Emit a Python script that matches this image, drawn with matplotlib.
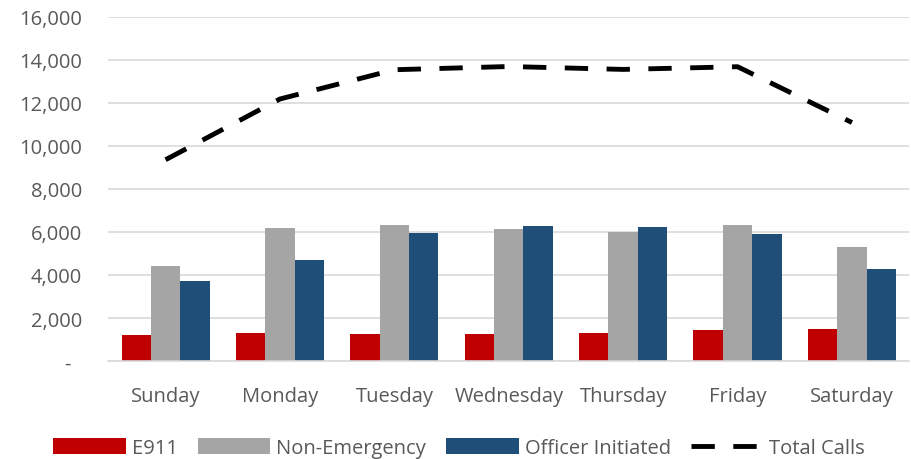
import numpy as np
import matplotlib.pyplot as plt
from matplotlib.ticker import FuncFormatter

plt.rcParams['font.family'] = ['Open Sans', 'DejaVu Sans']

days = ['Sunday', 'Monday', 'Tuesday', 'Wednesday', 'Thursday', 'Friday', 'Saturday']
e911 = [1230, 1310, 1250, 1265, 1295, 1465, 1480]
non_emergency = [4400, 6200, 6320, 6160, 6010, 6320, 5310]
officer = [3730, 4675, 5975, 6270, 6255, 5900, 4300]
total = [9360, 12185, 13545, 13695, 13560, 13685, 11090]

fig = plt.figure(figsize=(9.11, 4.6), dpi=100)
ax = fig.add_axes([0.119, 0.213, 0.879, 0.748])

x = np.arange(len(days))
w = 0.257
b1 = ax.bar(x - w, e911, w, color='#C00000', label='E911', zorder=2)
b2 = ax.bar(x, non_emergency, w, color='#A5A5A5', label='Non-Emergency', zorder=2)
b3 = ax.bar(x + w, officer, w, color='#1F4E79', label='Officer Initiated', zorder=2)
ln, = ax.plot(x, total, color='black', lw=3.5, dashes=(4.8, 3.8), label='Total Calls', zorder=3)

ax.set_xlim(-0.5, len(days) - 0.5)
ax.set_ylim(0, 16000)
ax.set_yticks(np.arange(0, 16001, 2000))
ax.yaxis.set_major_formatter(FuncFormatter(lambda v, p: '-  ' if v == 0 else f'{int(v):,}'))
ax.set_xticks(x)
ax.set_xticklabels(days)
ax.tick_params(axis='both', length=0, labelsize=14.5, colors='#595959')
ax.tick_params(axis='x', pad=18)
ax.tick_params(axis='y', pad=19)
ax.grid(axis='y', color='#D9D9D9', lw=1.2, zorder=0)
for s in ['top', 'right', 'left']:
    ax.spines[s].set_visible(False)
ax.spines['bottom'].set_color('#D9D9D9')
ax.spines['bottom'].set_linewidth(1.2)

leg = fig.legend(handles=[b1, b2, b3, ln], loc='lower center', bbox_to_anchor=(0.504, -0.037), ncol=4,
                 frameon=False, fontsize=14.5, handlelength=3.6, handleheight=0.8,
                 columnspacing=1.0, handletextpad=0.3)
for t in leg.get_texts():
    t.set_color('#595959')

fig.savefig('out.png', dpi=100)
